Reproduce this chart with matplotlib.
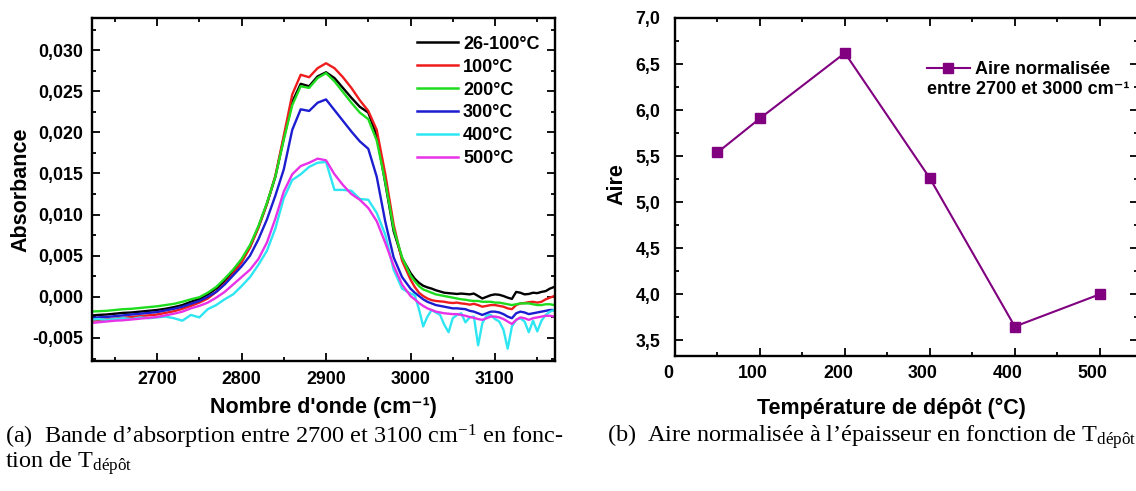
import numpy as np
import matplotlib
matplotlib.use("Agg")
import matplotlib.pyplot as plt
from matplotlib.ticker import MultipleLocator, FuncFormatter
import matplotlib.transforms as mtrans

# ---------------- data ----------------
# wavenumber grid (cm-1)
wavenumber = np.concatenate([np.arange(2620, 3001, 10), np.arange(3005, 3171, 5)])

# absorbance values in 1e-3 units
abs_26_100 = [-2.3, -2.2, -2.15, -2.05, -1.95, -1.9, -1.8, -1.7, -1.6, -1.45, -1.25, -1.0, -0.6,
              -0.25, 0.3, 1.0, 1.9, 3.0, 4.3, 6.1, 8.5, 11.3, 14.6, 19.3, 23.7, 25.9, 25.6, 26.8,
              27.3, 26.6, 25.4, 24.2, 23.1, 22.4, 19.6, 13.9, 8.0, 4.7, 2.9,
              2.2, 1.7, 1.35, 1.15, 1.0, 0.8, 0.65, 0.5, 0.45, 0.4, 0.35, 0.4, 0.35, 0.3, 0.4, 0.1,
              -0.2, 0.0, 0.2, 0.3, 0.25, 0.1, -0.1, -0.25, 0.6, 0.5, 0.3, 0.35, 0.5, 0.45, 0.6, 0.7,
              1.0, 1.2]
abs_100 = [-2.9, -2.85, -2.75, -2.65, -2.55, -2.45, -2.35, -2.25, -2.15, -1.95, -1.75, -1.45, -1.1,
           -0.7, -0.2, 0.6, 1.6, 2.8, 4.2, 6.0, 8.4, 11.3, 14.7, 19.6, 24.6, 27.0, 26.7, 27.8,
           28.4, 27.8, 26.7, 25.4, 23.9, 22.6, 20.3, 15.0, 8.8, 4.4, 2.1,
           1.2, 0.5, 0.1, -0.2, -0.4, -0.5, -0.55, -0.6, -0.7, -0.75, -0.7, -0.8, -0.85, -0.95,
           -0.85, -1.0, -1.2, -1.1, -1.0, -1.0, -1.1, -1.2, -1.4, -1.5, -1.0, -0.8, -0.75, -0.65,
           -0.6, -0.7, -0.6, -0.3, -0.1, 0.1]
abs_200 = [-1.8, -1.75, -1.7, -1.6, -1.5, -1.45, -1.35, -1.25, -1.15, -1.0, -0.85, -0.6, -0.3,
           -0.05, 0.5, 1.2, 2.2, 3.3, 4.6, 6.3, 8.6, 11.4, 14.6, 19.1, 23.3, 25.6, 25.4, 26.6,
           27.2, 26.2, 24.9, 23.6, 22.4, 21.6, 19.0, 14.0, 8.3, 4.8, 2.6,
           1.9, 1.3, 0.9, 0.7, 0.5, 0.3, 0.2, 0.1, 0.0, -0.1, -0.2, -0.3, -0.35, -0.45, -0.5,
           -0.5, -0.6, -0.6, -0.6, -0.7, -0.7, -0.8, -0.9, -1.0, -0.9, -0.8, -0.8, -0.8, -0.9,
           -1.0, -1.0, -0.9, -0.9, -1.0]
abs_300 = [-2.6, -2.5, -2.45, -2.35, -2.25, -2.15, -2.05, -1.95, -1.85, -1.65, -1.45, -1.2, -0.85,
           -0.5, 0.0, 0.6, 1.5, 2.6, 3.7, 5.0, 7.0, 9.4, 12.3, 15.5, 20.3, 22.8, 22.6, 23.6,
           24.0, 22.7, 21.4, 20.1, 18.9, 18.0, 14.6, 9.2, 4.8, 2.4, 1.0,
           0.5, 0.1, -0.3, -0.6, -0.8, -1.0, -1.1, -1.2, -1.3, -1.4, -1.4, -1.45, -1.5, -1.7,
           -1.8, -2.0, -2.2, -2.0, -1.8, -1.8, -1.9, -2.1, -2.4, -2.6, -2.0, -1.8, -1.9, -2.1,
           -2.0, -1.9, -1.8, -1.7, -1.6, -1.6]
abs_400 = [-2.8, -2.7, -2.8, -2.7, -2.6, -2.7, -2.5, -2.6, -2.5, -2.4, -2.6, -2.9, -2.2,
           -2.5, -1.5, -1.0, -0.3, 0.3, 1.3, 2.4, 3.9, 5.6, 8.3, 12.0, 14.2, 14.9, 15.8, 16.3,
           16.4, 13.0, 13.0, 12.9, 11.9, 11.8, 10.2, 7.6, 3.3, 1.0, 0.4,
           0.2, -1.5, -3.6, -2.4, -1.6, -1.9, -2.2, -3.4, -4.3, -2.6, -2.2, -2.0, -3.1, -2.5,
           -2.4, -5.9, -3.2, -2.3, -2.2, -2.7, -3.0, -4.0, -6.3, -3.6, -2.8, -2.6, -3.0, -4.3,
           -2.9, -4.2, -2.9, -2.2, -1.8, -1.6]
abs_500 = [-3.2, -3.1, -3.0, -2.9, -2.85, -2.75, -2.65, -2.55, -2.45, -2.25, -2.05, -1.8, -1.4,
           -1.1, -0.7, -0.1, 0.6, 1.5, 2.4, 3.3, 4.6, 6.6, 9.5, 12.8, 14.9, 15.9, 16.3, 16.8,
           16.6, 14.9, 13.6, 12.5, 11.8, 10.8, 9.2, 6.6, 3.8, 1.5, 0.1,
           -0.3, -0.75, -1.1, -1.4, -1.6, -1.8, -1.9, -2.0, -2.05, -2.1, -2.1, -2.2, -2.3, -2.45,
           -2.55, -2.7, -2.8, -2.6, -2.4, -2.4, -2.5, -2.7, -3.0, -3.3, -2.8, -2.5, -2.6, -2.8,
           -2.6, -2.5, -2.4, -2.3, -2.3, -2.4]

series_labels = ['26-100°C', '100°C', '200°C', '300°C', '400°C', '500°C']
series_values = [abs_26_100, abs_100, abs_200, abs_300, abs_400, abs_500]
series_colors = ['#000000', '#ee1c1c', '#1fdc1f', '#1c1cd0', '#2ee6f2', '#e832e8']

temperature = [50, 100, 200, 300, 400, 500]
aire = [5.54, 5.91, 6.62, 5.26, 3.65, 4.00]

# ---------------- figure ----------------
plt.rcParams['mathtext.fontset'] = 'custom'
plt.rcParams['mathtext.rm'] = 'Liberation Serif'
plt.rcParams['mathtext.it'] = 'Liberation Serif:italic'
plt.rcParams['mathtext.bf'] = 'Liberation Serif:bold'

W, H = 1136, 491
fig = plt.figure(figsize=(W / 100, H / 100), dpi=100)

SANS = ['Liberation Sans', 'DejaVu Sans']
TICK_FS = 12.8
LAB_FS = 15.5
LEG_FS = 13


def px_axes(x0, y0, x1, y1):
    return fig.add_axes([x0 / W, 1 - y1 / H, (x1 - x0) / W, (y1 - y0) / H])


def style_axes(ax, ypad, xpad):
    for s in ax.spines.values():
        s.set_linewidth(1.7)
    ax.tick_params(which='both', direction='in', top=True, right=True, width=1.3)
    ax.tick_params(which='major', length=5.5)
    ax.tick_params(which='minor', length=3)
    ax.tick_params(axis='y', pad=ypad)
    ax.tick_params(axis='x', pad=xpad)


def bold_ticklabels(ax):
    for lab in ax.get_xticklabels() + ax.get_yticklabels():
        lab.set_fontfamily(SANS)
        lab.set_fontweight('bold')
        lab.set_fontsize(TICK_FS)


def comma_fmt(nd):
    def f(v, pos):
        if abs(v) < 1e-12:
            v = 0.0
        return f"{v:.{nd}f}".replace('.', ',')
    return FuncFormatter(f)


# ---- left panel ----
ax1 = px_axes(92, 18, 555, 361)
for lab, vals, col in zip(series_labels, series_values, series_colors):
    ax1.plot(wavenumber, np.asarray(vals) * 1e-3, color=col, lw=1.7, label=lab)
ax1.set_xlim(2623, 3171)
ax1.set_ylim(-0.0078, 0.0339)
ax1.xaxis.set_minor_locator(MultipleLocator(50))
ax1.yaxis.set_major_locator(MultipleLocator(0.005))
ax1.yaxis.set_minor_locator(MultipleLocator(0.0025))
ax1.yaxis.set_major_formatter(comma_fmt(3))
ax1.set_xticks([2700, 2800, 2900, 3000, 3100])
style_axes(ax1, ypad=6.5, xpad=7.5)
bold_ticklabels(ax1)

ax1.set_xlabel("Nombre d'onde (cm\u207b\u00b9)", family=SANS, weight='bold', fontsize=LAB_FS)
ax1.xaxis.label.set_va('center')
ax1.xaxis.set_label_coords((323 - 92) / 463, -(408 - 361) / 343)
ax1.set_ylabel("Absorbance", family=SANS, weight='bold', fontsize=LAB_FS)
ax1.yaxis.label.set_va('center')
ax1.yaxis.set_label_coords(-(92 - 21) / 463, (361 - 190) / 343)

leg1 = ax1.legend(loc='center left', bbox_to_anchor=(417 / W, 1 - 101.5 / H),
                  bbox_transform=fig.transFigure, frameon=False, borderpad=0,
                  borderaxespad=0, handlelength=2.27, handletextpad=0.28,
                  labelspacing=0.33, prop={'family': SANS, 'weight': 'bold', 'size': LEG_FS})
for ln in leg1.get_lines():
    ln.set_linewidth(1.8)

# ---- right panel ----
ax2 = px_axes(675, 18, 1138, 356)
ax2.plot(temperature, aire, color='#800080', lw=1.5, marker='s', markersize=7,
         label='Aire normalisée')
ax2.set_xlim(0, 545)
ax2.set_ylim(3.33, 7.0)
ax2.xaxis.set_minor_locator(MultipleLocator(50))
ax2.yaxis.set_minor_locator(MultipleLocator(0.25))
ax2.yaxis.set_major_formatter(comma_fmt(1))
ax2.set_xticks([0, 100, 200, 300, 400, 500])
ax2.set_yticks([3.5, 4.0, 4.5, 5.0, 5.5, 6.0, 6.5, 7.0])
style_axes(ax2, ypad=10.5, xpad=6.5)
bold_ticklabels(ax2)

ax2.set_xlabel("Température de dépôt (°C)", family=SANS, weight='bold', fontsize=LAB_FS)
ax2.xaxis.label.set_va('center')
ax2.xaxis.set_label_coords((891 - 675) / 463, -(408 - 356) / 338)
ax2.set_ylabel("Aire", family=SANS, weight='bold', fontsize=LAB_FS)
ax2.yaxis.label.set_va('center')
ax2.yaxis.set_label_coords(-(675 - 617) / 463, (356 - 184) / 338)

leg2 = ax2.legend(loc='center left', bbox_to_anchor=(927 / W, 1 - 70 / H),
                  bbox_transform=fig.transFigure, frameon=False, borderpad=0,
                  borderaxespad=0, handlelength=2.38, handletextpad=0.28, numpoints=1,
                  prop={'family': SANS, 'weight': 'bold', 'size': LEG_FS})
fig.text(927 / W, 1 - 90 / H, "entre 2700 et 3000 cm\u207b\u00b9", family=SANS,
         weight='bold', fontsize=LEG_FS, ha='left', va='center')

# ---- captions ----
CAP_FS = 17.5
fig.text(5 / W, 1 - 437 / H, "(a)  Bande d\u2019absorption entre 2700 et 3100 cm$^{-1}$ en fonc-",
         family='Liberation Serif', fontsize=CAP_FS, ha='left', va='center')
fig.text(5 / W, 1 - 463 / H, r"tion de T$_{\mathrm{dépôt}}$",
         family='Liberation Serif', fontsize=CAP_FS, ha='left', va='center')
fig.text(607 / W, 1 - 437 / H,
         r"(b)  Aire normalisée à l’épaisseur en fonction de T$_{\mathrm{dépôt}}$",
         family='Liberation Serif', fontsize=CAP_FS, ha='left', va='center')

# shift right-panel x tick labels slightly left, as in the original
fig.canvas.draw()
off = mtrans.ScaledTranslation(-7 / 100, 0, fig.dpi_scale_trans)
for lab in ax2.xaxis.get_ticklabels():
    lab.set_transform(lab.get_transform() + off)

fig.savefig("out.png", dpi=100)
